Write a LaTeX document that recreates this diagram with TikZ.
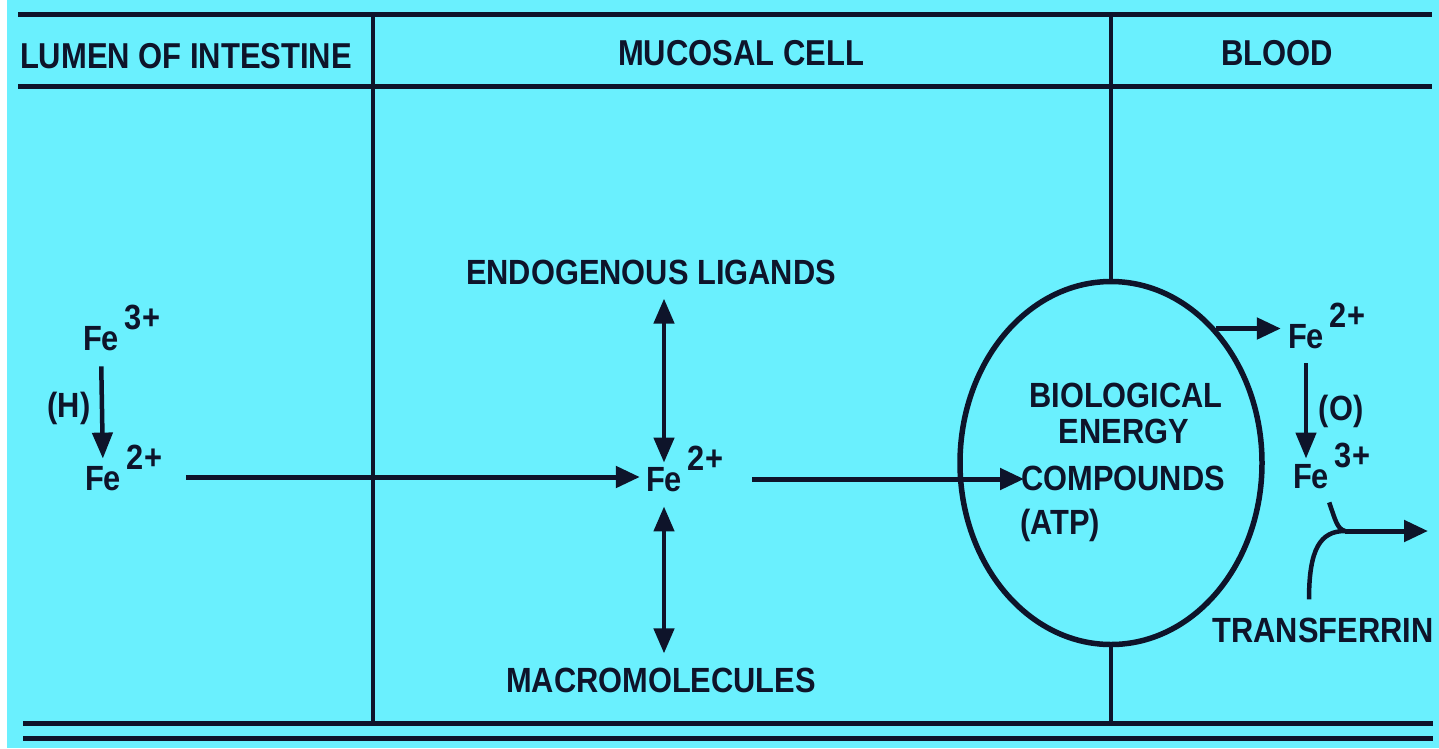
\documentclass[tikz,border=0pt]{standalone}
\usepackage{fontspec}
\newfontfamily\dfont{Liberation Sans}[FakeStretch=0.88]
\newfontfamily\hfont{Liberation Sans}[FakeStretch=0.86]
\usetikzlibrary{arrows.meta,shapes.geometric}
\definecolor{bg}{RGB}{106,240,254}
\definecolor{ink}{RGB}{14,20,42}
\newcommand\fesup[1]{\rlap{\smash{\hspace{6pt}\raisebox{21pt}{#1}}}}
\tikzset{
  txt/.style={font=\dfont\bfseries\fontsize{35}{38}\selectfont, text=ink, inner sep=0pt},
  head/.style={font=\hfont\bfseries\fontsize{36}{39}\selectfont, text=ink, inner sep=0pt},
  rule/.style={draw=ink, line width=5pt},
  divider/.style={draw=ink, line width=3.5pt},
  arr/.style={draw=ink, line width=5pt, -{Triangle[length=24pt,width=21pt]}},
  varr/.style={draw=ink, line width=4.5pt, -{Triangle[length=26pt,width=20pt]}},
  darr/.style={draw=ink, line width=4.5pt, {Triangle[length=25pt,width=20pt]}-{Triangle[length=25pt,width=20pt]}},
  branch/.style={draw=ink, line width=4.5pt},
  cellshape/.style={ellipse, draw=ink, line width=5.5pt, minimum width=302pt, minimum height=363pt, inner sep=0pt},
}
\begin{document}
\begin{tikzpicture}[x=1pt,y=-1pt]
\useasboundingbox (0,0) rectangle (1439,748);
\fill[white] (0,0) rectangle (1439,748);
\fill[bg] (7,0) rectangle (1439,748);

% headers
\node[head] (h1) at (186,56) {LUMEN OF INTESTINE};
\node[head] (h2) at (741,53) {MUCOSAL CELL};
\node[head] (h3) at (1277,53) {BLOOD};

% rules
\coordinate (tl) at (18,14);   \coordinate (tr) at (1432,14);
\coordinate (hl) at (18,86);   \coordinate (hr) at (1432,86);
\coordinate (b1l) at (23,723); \coordinate (b1r) at (1433,723);
\coordinate (b2l) at (23,738); \coordinate (b2r) at (1433,738);
\draw[rule] (tl) -- (tr);
\draw[rule] (hl) -- (hr);
\draw[rule] (b1l) -- (b1r);
\draw[rule] (b2l) -- (b2r);

% cell ellipse
\node[cellshape] (cell) at (1111,463) {};

% dividers
\coordinate (d1t) at (373,14); \coordinate (d1b) at (373,723);
\coordinate (d2t) at (1111,14); \coordinate (d2b) at (1111,723);
\draw[divider] (d1t) -- (d1b);
\draw[divider] (d2t) -- (cell.north);
\draw[divider] (cell.south) -- (d2b);

% lumen
\node[txt] (fe3L) at (101,339) {Fe\fesup{3+}};
\node[txt] (hred) at (69,408) {(H)};
\node[txt] (fe2L) at (103,479) {Fe\fesup{2+}};
\draw[varr, shorten <=15pt, shorten >=8pt] (fe3L.south) -- (fe2L.north);

% mucosal
\node[txt] (fe2M) at (664,480) {Fe\fesup{2+}};
\node[txt] (lig) at (651,272) {ENDOGENOUS LIGANDS};
\node[txt] (mac) at (661,680) {MACROMOLECULES};
\draw[arr] ([xshift=65pt,yshift=2pt]fe2L.east) -- ([xshift=-6pt,yshift=2pt]fe2L.east -| fe2M.west);
\draw[darr, shorten <=14pt, shorten >=5pt] (lig.south -| fe2M) -- (fe2M.north);
\draw[darr, shorten <=14pt, shorten >=14pt] (fe2M.south) -- (mac.north -| fe2M);

% ellipse text
\node[txt] (bio) at (1126,395) {BIOLOGICAL};
\node[txt] (ene) at (1124,431) {ENERGY};
\node[txt] (comp) at (1123,478) {COMPOUNDS};
\node[txt] (atp) at (1060,525) {(ATP)};
\draw[arr] ([xshift=70pt,yshift=1pt]fe2M.east) -- ([xshift=3pt,yshift=1pt]fe2M.east -| comp.west);

% blood
\node[txt] (fe2R) at (1306,337) {Fe\fesup{2+}};
\node[txt] (oxi) at (1341,411) {(O)};
\node[txt] (fe3R) at (1311,477) {Fe\fesup{3+}};
\node[txt] (trf) at (1323,630) {TRANSFERRIN};
\draw[arr, shorten >=7pt] (cell.52) -- (cell.52 -| fe2R.west);
\draw[varr, shorten <=14pt, shorten >=6pt] (fe2R.south) -- (fe2R.south |- fe3R.north);
\coordinate (J) at (1345,531);
\coordinate (E) at (1428,531);
\draw[branch] ([yshift=-13pt]fe3R.south east) .. controls +(6,17) and +(-8,-2) .. (J);
\draw[branch] ([xshift=-14pt,yshift=18pt]trf.north) .. controls +(0,-50) and +(-25,0) .. (J);
\draw[arr] (J) -- (E);
\end{tikzpicture}
\end{document}
